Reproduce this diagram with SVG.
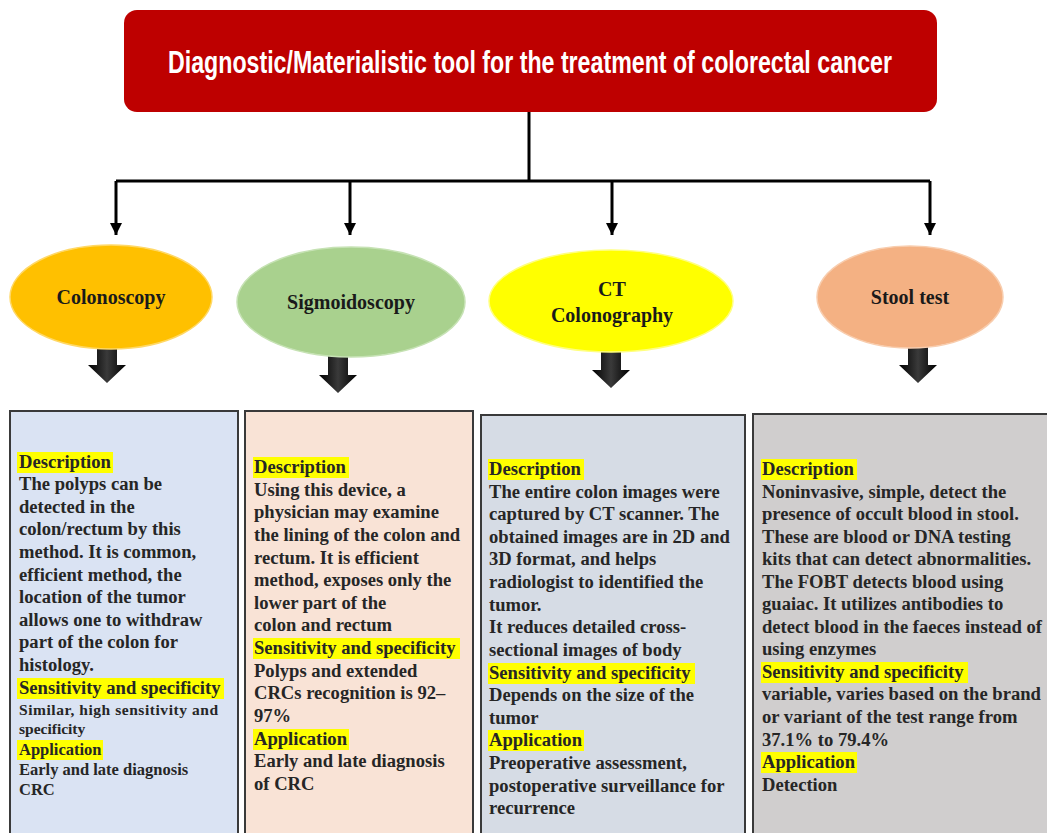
<svg xmlns="http://www.w3.org/2000/svg" width="1047" height="833" viewBox="0 0 1047 833">
<defs>
<style>
.lbl{font-family:"Liberation Serif","Times New Roman",serif;font-weight:bold;font-size:20px;fill:#1a1a1a;text-anchor:middle}
.t{font-family:"Liberation Serif","Times New Roman",serif;font-weight:bold;font-size:18.6px;fill:#262626}
.s{font-size:15.5px}
.m{font-size:16.5px}
.hl{fill:#FFFF00}
.box{stroke:#3a3a3a;stroke-width:2}
.conn{fill:none;stroke:#000;stroke-width:3}
.ell{stroke-width:1.5}
</style>
<marker id="ah" viewBox="0 0 10 10" refX="10" refY="5" markerWidth="4.4" markerHeight="4" orient="auto" markerUnits="strokeWidth">
<path d="M0,0 L10,5 L0,10 Z" fill="#000"/>
</marker>
<linearGradient id="ag" x1="0" y1="0" x2="1" y2="0">
<stop offset="0" stop-color="#000"/>
<stop offset="0.5" stop-color="#3a3a3a"/>
<stop offset="1" stop-color="#000"/>
</linearGradient>
<path id="barrow" d="M-10,0 L10,0 L10,28 L19,28 L0,46 L-19,28 L-10,28 Z"/>
</defs>
<rect width="1047" height="833" fill="#fff"/>

<g id="title">
<rect x="124" y="10" width="813" height="102" rx="13" fill="#BE0000"/>
<text transform="translate(530,73) scale(0.66,1)" x="0" y="0" font-family="Liberation Sans, Arial, sans-serif" font-weight="bold" font-size="32" fill="#fff" text-anchor="middle" textLength="1097" lengthAdjust="spacingAndGlyphs">Diagnostic/Materialistic  tool for the treatment  of colorectal cancer</text>
</g>

<g id="connectors">
<path class="conn" d="M529,112 V181"/>
<path class="conn" d="M116,181 H930"/>
<path class="conn" d="M116,181 V235" marker-end="url(#ah)"/>
<path class="conn" d="M350,181 V235" marker-end="url(#ah)"/>
<path class="conn" d="M612,181 V235" marker-end="url(#ah)"/>
<path class="conn" d="M930,181 V235" marker-end="url(#ah)"/>
<use href="#barrow" x="107" y="337" fill="url(#ag)"/>
<use href="#barrow" x="338" y="347" fill="url(#ag)"/>
<use href="#barrow" x="611" y="342" fill="url(#ag)"/>
<use href="#barrow" x="918" y="337" fill="url(#ag)"/>
</g>

<g id="colonoscopy">
<ellipse class="ell" cx="111" cy="297" rx="101" ry="52" fill="#FFC000" stroke="#FFD866"/>
<text class="lbl" x="111" y="304">Colonoscopy</text>
</g>
<g id="sigmoidoscopy">
<ellipse class="ell" cx="351" cy="302" rx="114" ry="55" fill="#A9D18E" stroke="#C6E2B4"/>
<text class="lbl" x="351" y="309">Sigmoidoscopy</text>
</g>
<g id="ct-colonography">
<ellipse class="ell" cx="611" cy="301" rx="122" ry="51" fill="#FFFF00" stroke="#FFFF80"/>
<text class="lbl" x="612" y="296">CT</text>
<text class="lbl" x="612" y="322">Colonography</text>
</g>
<g id="stool-test">
<ellipse class="ell" cx="910" cy="297" rx="93" ry="51" fill="#F4B183" stroke="#F8CDAE"/>
<text class="lbl" x="910" y="304">Stool test</text>
</g>

<g id="box-colonoscopy">
<rect class="box" x="10" y="411" width="228" height="430" fill="#DAE3F3"/>
<rect class="hl" x="17" y="452" width="96" height="21"/>
<rect class="hl" x="17" y="678" width="207" height="21"/>
<rect class="hl" x="17" y="740" width="86" height="20"/>
<text class="t" x="19" y="468">Description</text>
<text class="t" x="19" y="490">The polyps can be</text>
<text class="t" x="19" y="513">detected in the</text>
<text class="t" x="19" y="535">colon/rectum by this</text>
<text class="t" x="19" y="558">method. It is common,</text>
<text class="t" x="19" y="581">efficient method, the</text>
<text class="t" x="19" y="603">location of the tumor</text>
<text class="t" x="19" y="626">allows one to withdraw</text>
<text class="t" x="19" y="648">part of the colon for</text>
<text class="t" x="19" y="671">histology.</text>
<text class="t" x="19" y="694">Sensitivity and specificity</text>
<text class="t s" x="19" y="715" textLength="199">Similar, high sensitivity and</text>
<text class="t s" x="19" y="734">specificity</text>
<text class="t m" x="19" y="755">Application</text>
<text class="t m" x="19" y="775">Early and late diagnosis</text>
<text class="t m" x="19" y="795">CRC</text>
</g>

<g id="box-sigmoidoscopy">
<rect class="box" x="245" y="411" width="228" height="430" fill="#F9E3D6"/>
<rect class="hl" x="253" y="457" width="96" height="21"/>
<rect class="hl" x="253" y="638" width="207" height="21"/>
<rect class="hl" x="253" y="729" width="96" height="21"/>
<text class="t" x="254" y="473">Description</text>
<text class="t" x="254" y="496">Using this device, a</text>
<text class="t" x="254" y="518">physician may examine</text>
<text class="t" x="254" y="541">the lining of the colon and</text>
<text class="t" x="254" y="564">rectum. It is efficient</text>
<text class="t" x="254" y="586">method, exposes only the</text>
<text class="t" x="254" y="609">lower part of the</text>
<text class="t" x="254" y="631">colon and rectum</text>
<text class="t" x="254" y="654">Sensitivity and specificity</text>
<text class="t" x="254" y="677">Polyps and extended</text>
<text class="t" x="254" y="699">CRCs recognition is 92–</text>
<text class="t" x="254" y="722">97%</text>
<text class="t" x="254" y="745">Application</text>
<text class="t" x="254" y="767">Early and late diagnosis</text>
<text class="t" x="254" y="790">of CRC</text>
</g>

<g id="box-ct">
<rect class="box" x="481" y="415" width="264" height="430" fill="#D6DCE5"/>
<rect class="hl" x="488" y="459" width="96" height="21"/>
<rect class="hl" x="488" y="663" width="207" height="21"/>
<rect class="hl" x="488" y="730" width="96" height="21"/>
<text class="t" x="489" y="475">Description</text>
<text class="t" x="489" y="498">The entire colon images were</text>
<text class="t" x="489" y="520">captured by CT scanner. The</text>
<text class="t" x="489" y="543">obtained images are in 2D and</text>
<text class="t" x="489" y="565">3D format, and helps</text>
<text class="t" x="489" y="588">radiologist to identified the</text>
<text class="t" x="489" y="611">tumor.</text>
<text class="t" x="489" y="633">It reduces detailed cross-</text>
<text class="t" x="489" y="656">sectional images of body</text>
<text class="t" x="489" y="679">Sensitivity and specificity</text>
<text class="t" x="489" y="701">Depends on the size of the</text>
<text class="t" x="489" y="724">tumor</text>
<text class="t" x="489" y="746">Application</text>
<text class="t" x="489" y="769">Preoperative assessment,</text>
<text class="t" x="489" y="792">postoperative surveillance for</text>
<text class="t" x="489" y="814">recurrence</text>
</g>

<g id="box-stool">
<rect class="box" x="753" y="414" width="300" height="430" fill="#D0CECE"/>
<rect class="hl" x="761" y="459" width="96" height="21"/>
<rect class="hl" x="761" y="662" width="207" height="21"/>
<rect class="hl" x="761" y="752" width="96" height="21"/>
<text class="t" x="762" y="475">Description</text>
<text class="t" x="762" y="498">Noninvasive, simple, detect the</text>
<text class="t" x="762" y="520">presence of occult blood in stool.</text>
<text class="t" x="762" y="543">These are blood or DNA testing</text>
<text class="t" x="762" y="565">kits that can detect abnormalities.</text>
<text class="t" x="762" y="588">The FOBT detects blood using</text>
<text class="t" x="762" y="610">guaiac. It utilizes antibodies to</text>
<text class="t" x="762" y="633">detect blood in the faeces instead of</text>
<text class="t" x="762" y="655">using enzymes</text>
<text class="t" x="762" y="678">Sensitivity and specificity</text>
<text class="t" x="762" y="700">variable, varies based on the brand</text>
<text class="t" x="762" y="723">or variant of the test range from</text>
<text class="t" x="762" y="746">37.1% to 79.4%</text>
<text class="t" x="762" y="768">Application</text>
<text class="t" x="762" y="791">Detection</text>
</g>
</svg>
